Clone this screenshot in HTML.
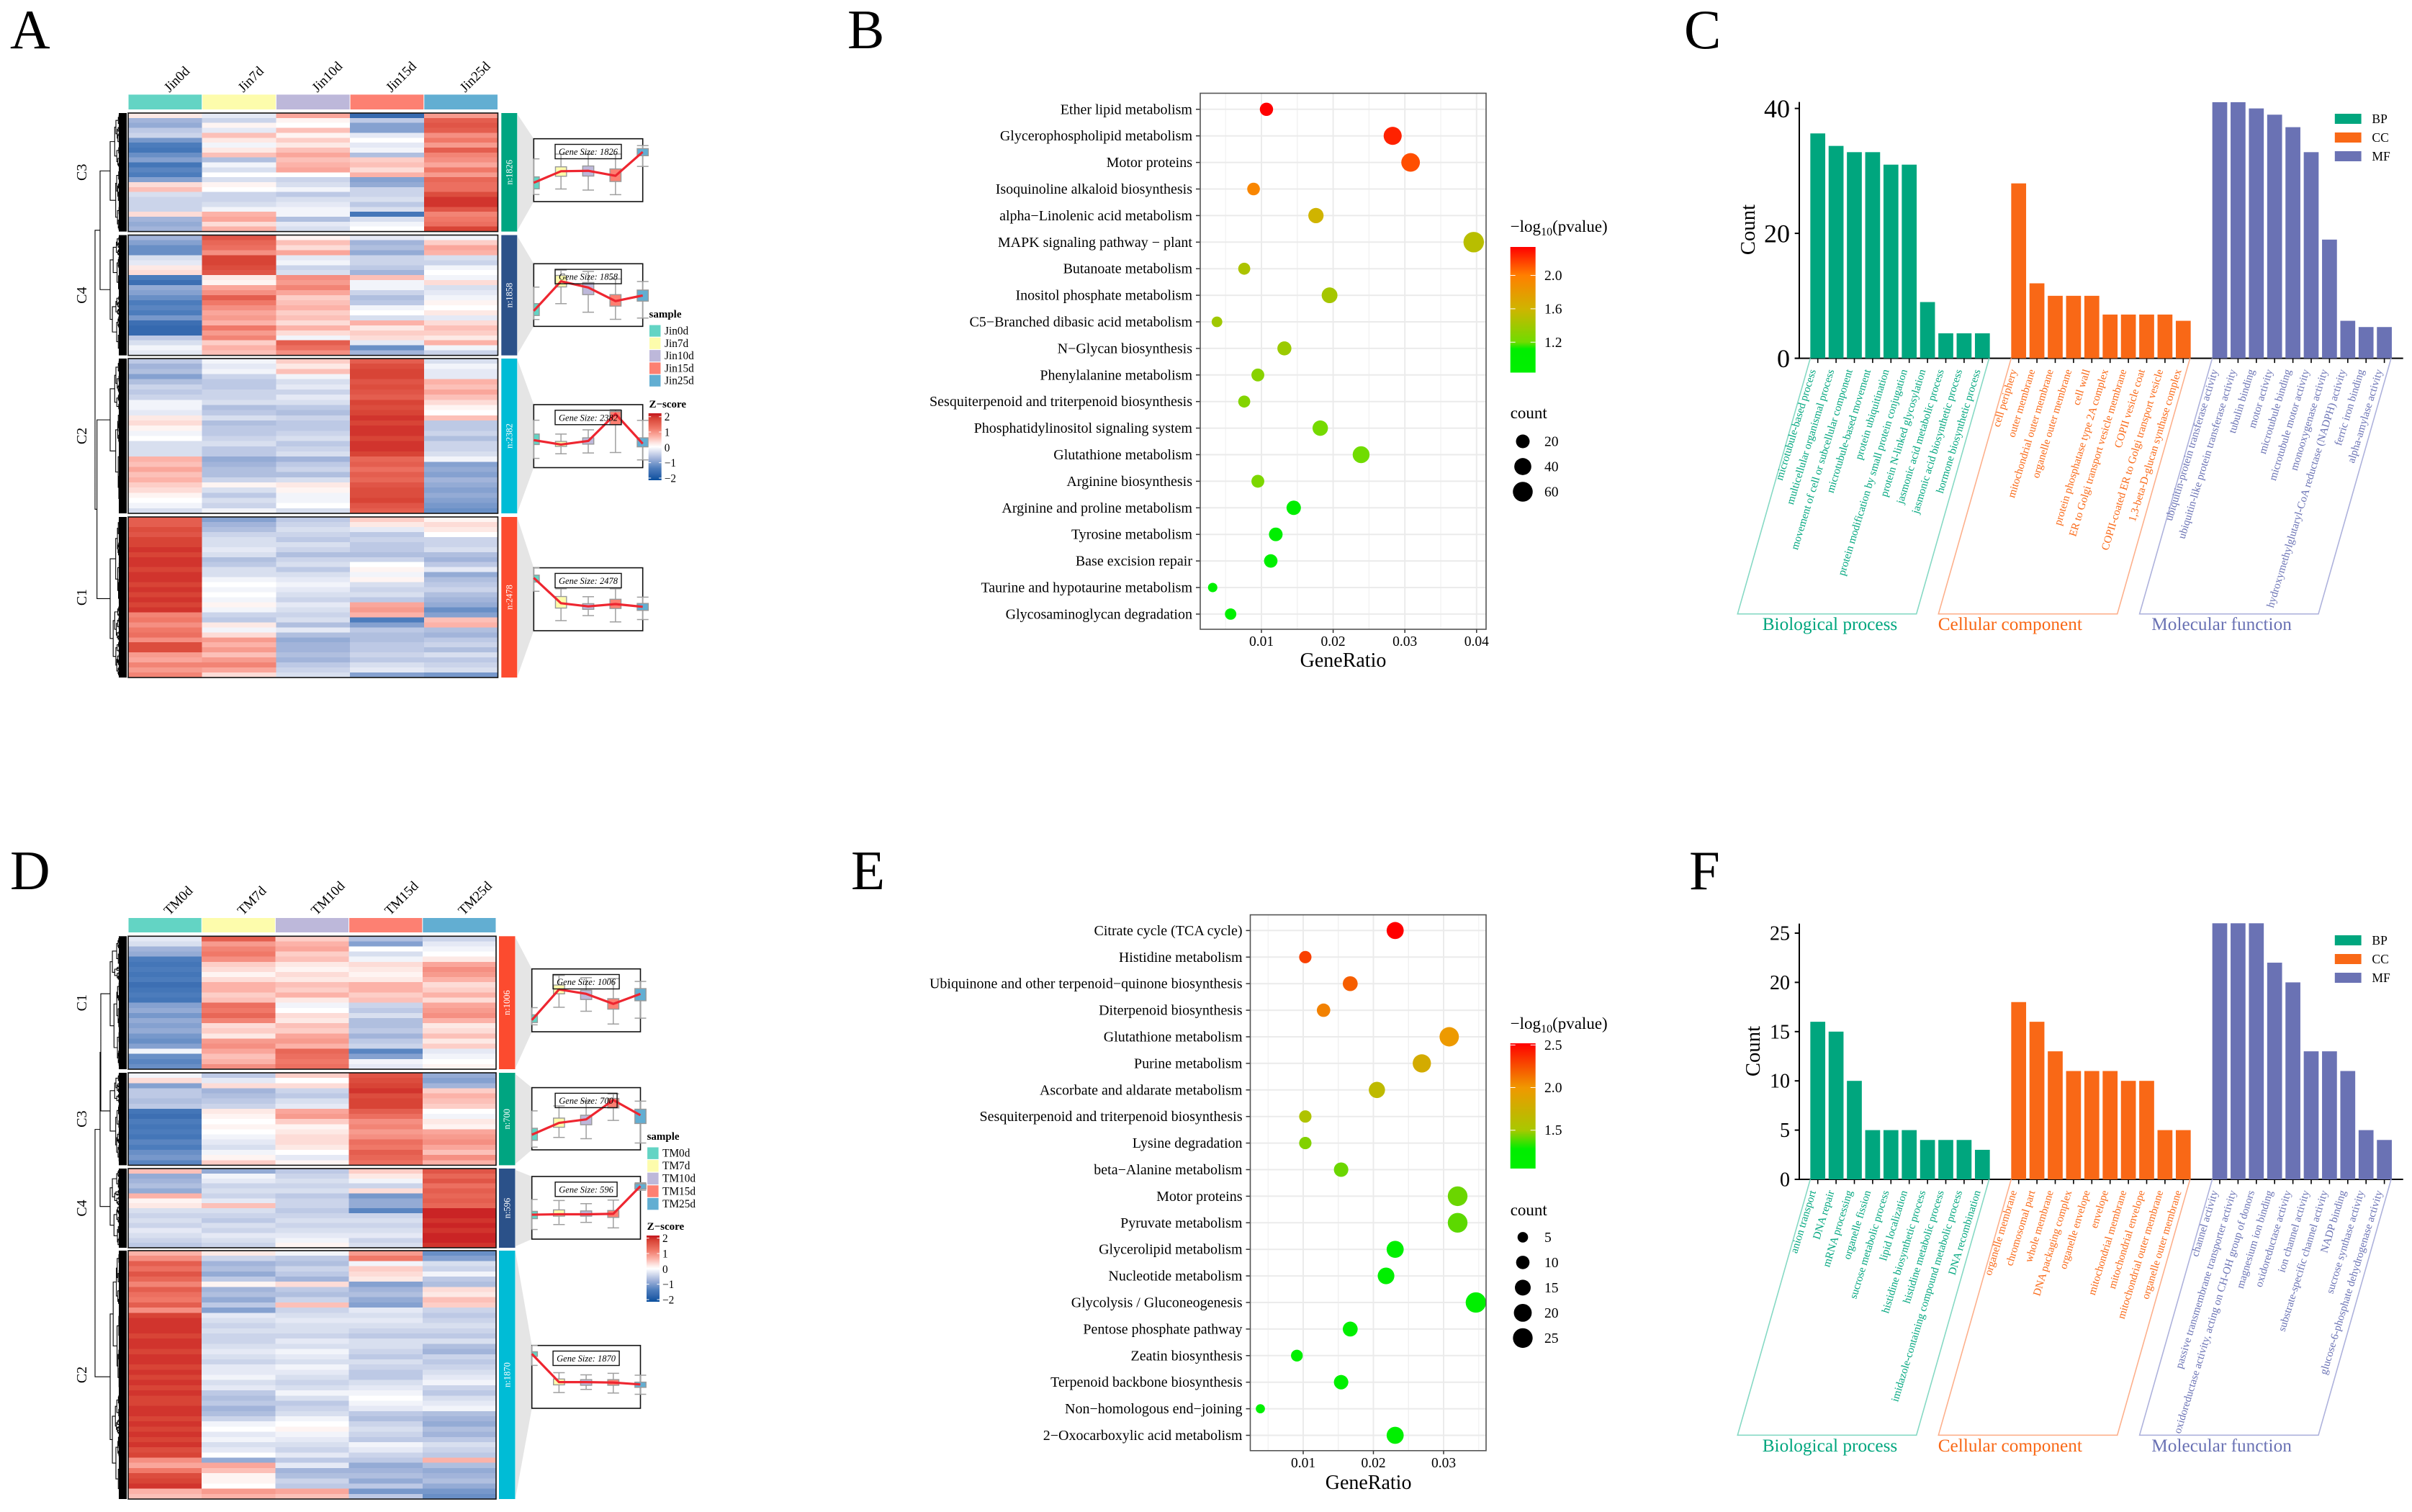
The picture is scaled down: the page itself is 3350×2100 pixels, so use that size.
<!DOCTYPE html>
<html lang="en">
<head>
<meta charset="utf-8">
<title>Transcriptome clustering and enrichment figure</title>
<style>
html,body{margin:0;padding:0;background:#fff;}
svg{display:block;font-family:"Liberation Serif","Times New Roman",serif;}
</style>
</head>
<body>
<svg id="figure" xmlns="http://www.w3.org/2000/svg" width="3350" height="2100" viewBox="0 0 3350 2100">
<rect x="0" y="0" width="3350" height="2100" fill="#fff"/>
<defs id="defs"></defs>
<g id="panelA"></g>
<g id="panelB"></g>
<g id="panelC"></g>
<g id="panelD"></g>
<g id="panelE"></g>
<g id="panelF"></g>
<text x="14" y="67" font-size="77">A</text>
<text x="1177" y="67" font-size="77">B</text>
<text x="2339" y="67" font-size="77">C</text>
<text x="14" y="1235" font-size="77">D</text>
<text x="1182" y="1235" font-size="77">E</text>
<text x="2346" y="1235" font-size="77">F</text>
</svg>
<script>
/* ---------- DATA: heatmap z-scores x10, per column, top to bottom ---------- */
const aC3Heat=[
[2,-7,-8,-5,-4,-10,-13,-14,-11,-9,-14,-12,-13,-9,3,5,-3,-4,-4,-4,3,-7,-8,-7],
[-2,-4,1,-2,5,2,-1,2,5,-6,-1,-3,0,-3,1,0,-4,-4,-3,-1,6,7,3,6],
[7,1,0,5,1,4,2,5,7,5,6,7,0,-4,-3,-1,-5,-3,-2,-1,-1,-6,-2,-3],
[-16,-5,-9,-9,-2,0,-2,-1,-6,4,5,3,6,-9,-8,-4,-4,-3,-5,-3,-14,-3,-1,0],
[8,14,15,14,9,11,8,14,10,9,7,11,8,13,12,12,16,18,18,15,10,11,12,17]];
const aC4Heat=[
[-7,-9,-11,-11,-3,-2,2,3,-13,-15,-8,-9,-11,-13,-12,-13,-10,-15,-16,-16,-5,-3,-1,-2],
[15,13,12,9,17,17,16,15,2,1,7,9,14,11,9,7,8,6,11,8,10,4,6,5],
[1,5,3,7,-2,-1,-4,-3,9,8,10,7,4,5,6,4,5,3,6,3,-1,14,12,9],
[-2,-7,-6,-8,-4,-4,-5,-7,5,-1,-1,-4,-6,-5,-1,0,-3,6,2,4,3,-2,-11,-7],
[-1,4,7,6,-3,-4,-1,0,-1,3,-3,-2,-1,1,0,2,-2,3,5,4,2,6,-1,-4]];
const aC2Heat=[
[-5,-7,-6,-9,-6,-4,-5,-4,-1,-1,-2,2,3,1,-1,0,-3,-3,-3,6,5,7,5,6,4,3,1,0,-1,-3],
[-1,-2,-1,-4,-5,-5,-4,-4,-3,-6,-5,-3,-6,-5,-5,-4,-3,-5,-5,-8,-7,-6,-6,-4,1,-3,-5,-3,-4,-1],
[4,2,5,-1,-3,-2,-4,-2,-3,-5,-6,-4,-5,-5,-4,-3,-5,-4,-3,-7,-5,-4,-6,-3,2,1,-1,-1,0,-3],
[14,16,17,17,15,16,15,14,17,16,17,18,17,18,18,17,18,18,17,13,14,12,14,13,15,16,16,17,15,14],
[-3,-1,-2,-2,6,5,7,5,3,1,0,5,-5,-5,-4,-6,-4,-4,-3,-1,-9,-8,-9,-7,-8,-9,-8,-9,-10,-11]];
const aC1Heat=[
[14,14,16,15,17,17,18,17,18,18,17,18,18,17,18,17,18,17,18,10,11,9,11,12,9,16,16,8,7,10,8,10],
[-9,-7,-6,-4,-3,-3,-2,-3,-6,-5,-3,-3,-1,0,-1,0,-1,1,-1,-4,-5,2,-1,3,8,6,8,5,8,10,7,3],
[-5,-4,-3,-4,-5,-3,-4,-6,-4,-3,-5,-3,-2,-1,-2,-3,-4,-2,-3,-4,-3,-6,-2,-6,-8,-7,-7,-6,-7,-5,-4,-3],
[4,2,-2,-5,-4,-5,-5,-6,-4,0,1,-1,1,-3,-4,-3,-5,7,8,6,-13,-9,-5,-6,-6,-5,-5,-4,-5,-3,-2,-9],
[1,3,2,0,-4,-4,-3,-6,-7,-5,-2,-8,-6,-5,-4,-6,-7,-8,-11,-9,5,6,-6,-7,-5,-4,-6,-3,-5,-4,-3,-10]];
const dC1Heat=[
[-2,-3,-7,-8,-13,-14,-13,-14,-13,-15,-14,-13,-14,-9,-8,-10,-8,-9,-8,-10,-11,-9,-1,-11,-12,-11],
[14,8,10,11,9,4,3,1,3,6,6,4,5,12,11,13,10,3,4,2,8,9,7,5,6,9],
[4,6,7,4,5,2,1,3,2,5,4,6,2,-1,0,3,2,5,4,7,8,6,13,12,11,12],
[-6,-9,0,-3,-1,3,2,1,2,6,6,4,5,-4,-5,-3,-6,-6,-5,-7,-5,-4,-12,-9,-1,-2],
[-4,-2,-1,0,2,7,9,8,6,3,4,6,3,7,8,9,6,2,3,5,2,4,-2,-1,0,1]];
const dC3Heat=[
[-1,3,-9,-5,-5,-6,-5,-14,-15,-13,-14,-13,-14,-12,-13,-11,-10,-12],
[-5,-2,3,-7,-6,-5,-4,2,1,0,1,0,-1,-2,-3,-1,1,4],
[4,0,3,-4,-5,-3,-2,7,8,4,1,2,3,3,2,0,-2,1],
[15,16,17,18,16,17,17,14,12,9,10,8,9,12,11,14,13,12],
[-8,-9,-7,4,6,5,4,0,-1,2,1,7,8,9,7,5,9,6]];
const dC4Heat=[
[5,-8,-7,-6,-8,6,1,2,-3,-4,-3,-4,-2,-3,-4,-5],
[-8,-1,-2,-4,-3,-4,-2,5,-3,-4,-5,-3,-4,-2,-3,-4],
[-5,-4,-3,-4,-3,-5,-4,-4,-5,-4,-3,-4,-3,-2,-1,1],
[4,2,-1,-4,3,-10,-8,-8,-12,-4,-3,-4,-3,-2,-4,-3],
[15,13,15,12,14,13,14,13,19,19,18,19,18,19,19,18]];
const dC2Heat=[
[6,9,14,12,15,13,10,14,12,11,14,9,17,18,18,18,17,18,18,17,18,18,17,18,17,18,17,18,17,17,18,18,17,18,17,18,17,18,16,17,9,7,11,16,17,18,6,5],
[2,-4,-7,-6,-8,-5,1,-7,-6,-8,-5,-9,-2,-3,-4,-3,-4,-4,-3,-2,-3,-4,-2,-2,-1,-3,-2,-5,-6,-5,-7,-6,-4,-1,0,-2,-1,-3,-2,0,-8,7,5,1,1,0,8,6],
[-1,-5,-6,-4,-5,-7,3,-5,-6,-4,5,-4,-3,-2,-3,-3,-4,-2,-3,-1,-2,-3,-1,-2,-3,-4,-3,-1,-3,-5,-4,-3,-1,0,1,-1,-2,-3,-4,-2,-5,-2,-7,-6,-4,-5,7,5],
[8,11,-1,4,3,2,-9,-7,-6,-8,-9,-2,-3,-2,-3,-4,-5,-3,-3,-4,-5,-3,-4,-5,-5,-3,-2,-1,0,-1,-2,-5,-6,-4,-3,-4,-5,-1,-2,-4,-5,-8,-7,-6,-8,-5,-10,-5],
[-11,-9,-3,-4,-1,-5,-6,3,2,5,4,-4,-5,-4,-3,-4,-5,-3,-6,-7,-4,-5,-4,-3,-2,-1,-4,-5,-3,-2,-1,-6,-7,-8,-6,-7,-5,-3,-4,-5,6,-6,-8,-7,-6,-8,-10,-11]];

/* ---------- DATA: trend box plots (stat arrays in time-point order) ---------- */
const aC3Median=[-.6,-.05,-.03,-.27,.87], aC3Q1=[-.89,-.29,-.28,-.54,.69], aC3Q3=[-.32,.16,.2,.06,1.03], aC3Low=[-1.16,-.9,-.95,-1.17,.18], aC3High=[.54,.77,.77,.77,1.17];
const aC4Median=[-.76,.66,.36,-.29,-.02], aC4Q1=[-.98,.39,.02,-.53,-.29], aC4Q3=[-.41,.94,.6,.02,.24], aC4Low=[-1.17,-.41,-.82,-1.16,-1.1], aC4High=[.38,1.19,1.13,.77,.65];
const aC2Median=[-.19,-.4,-.23,1.06,-.36], aC2Q1=[-.4,-.49,-.38,.54,-.51], aC2Q3=[.1,-.25,-.08,1.17,-.08], aC2Low=[-1.06,-.84,-.8,-.78,-1.13], aC2High=[.76,.1,.3,1.26,.75];
const aC1Median=[1.02,-.19,-.34,-.23,-.36], aC1Q1=[.82,-.42,-.48,-.44,-.53], aC1Q3=[1.15,.13,-.21,0,-.2], aC1Low=[.38,-1.02,-.78,-1.08,-.97], aC1High=[1.5,.5,.12,.5,.1];
const dC1Median=[-.94,.52,.31,-.17,.31], dC1Q1=[-1.06,.31,.04,-.42,-.02], dC1Q3=[-.69,.73,.48,.08,.56], dC1Low=[-1.17,-.33,-.52,-1.13,-.85], dC1High=[-.35,1.19,1.08,1.04,.9];
const dC3Median=[-.77,-.2,-.03,.9,.17], dC3Q1=[-1.04,-.41,-.29,.52,-.23], dC3Q3=[-.46,.03,.17,.98,.46], dC3Low=[-1.37,-.9,-.96,-.08,-1.17], dC3High=[.38,.62,.85,1.2,.85];
const dC4Median=[-.33,-.31,-.31,-.29,1.04], dC4Q1=[-.52,-.4,-.4,-.46,.9], dC4Q3=[-.17,-.1,-.15,-.13,1.15], dC4Low=[-1.04,-.8,-.7,-.96,.84], dC4High=[.4,.35,.2,.37,1.2];
const dC2Median=[1.1,-.25,-.25,-.27,-.36], dC2Q1=[.98,-.38,-.4,-.4,-.5], dC2Q3=[1.2,-.1,-.13,-.13,-.25], dC2Low=[.55,-.75,-.6,-.77,-.83], dC2High=[1.5,.2,.1,.17,.08];

/* ---------- DATA: KEGG dot plots ---------- */
const bTerms=["Ether lipid metabolism","Glycerophospholipid metabolism","Motor proteins","Isoquinoline alkaloid biosynthesis","alpha\u2212Linolenic acid metabolism","MAPK signaling pathway \u2212 plant","Butanoate metabolism","Inositol phosphate metabolism","C5\u2212Branched dibasic acid metabolism","N\u2212Glycan biosynthesis","Phenylalanine metabolism","Sesquiterpenoid and triterpenoid biosynthesis","Phosphatidylinositol signaling system","Glutathione metabolism","Arginine biosynthesis","Arginine and proline metabolism","Tyrosine metabolism","Base excision repair","Taurine and hypotaurine metabolism","Glycosaminoglycan degradation"];
const bRatios=[.0107,.0283,.0308,.0089,.0176,.0396,.0076,.0195,.0038,.0132,.0095,.0076,.0182,.0239,.0095,.0145,.012,.0113,.0032,.0057];
const bCounts=[18,47,51,15,29,65,12,32,6,22,16,12,30,39,16,24,20,19,1,9];
const bLogP=[2.34,2.25,2.13,1.95,1.6,1.5,1.45,1.42,1.4,1.38,1.3,1.28,1.22,1.2,1.25,1.05,1.02,1,.95,.9];
const bRatioTicks=[.01,.02,.03,.04];
const bColorTicks=[2,1.6,1.2];
const bSizeTicks=[20,40,60];
const eTerms=["Citrate cycle (TCA cycle)","Histidine metabolism","Ubiquinone and other terpenoid\u2212quinone biosynthesis","Diterpenoid biosynthesis","Glutathione metabolism","Purine metabolism","Ascorbate and aldarate metabolism","Sesquiterpenoid and triterpenoid biosynthesis","Lysine degradation","beta\u2212Alanine metabolism","Motor proteins","Pyruvate metabolism","Glycerolipid metabolism","Nucleotide metabolism","Glycolysis / Gluconeogenesis","Pentose phosphate pathway","Zeatin biosynthesis","Terpenoid backbone biosynthesis","Non\u2212homologous end\u2212joining","2\u2212Oxocarboxylic acid metabolism"];
const eRatios=[.0231,.0103,.0167,.0129,.0308,.0269,.0205,.0103,.0103,.0154,.032,.032,.0231,.0218,.0346,.0167,.0091,.0154,.0039,.0231];
const eCounts=[18,8,13,10,24,21,16,8,8,12,25,25,18,17,27,13,7,12,3,18];
const eLogP=[2.52,2.3,2.2,2.08,1.98,1.8,1.65,1.55,1.45,1.42,1.42,1.4,1.22,1.2,1.18,1.15,1.12,1.1,1.08,1.06];
const eRatioTicks=[.01,.02,.03];
const eColorTicks=[2.5,2,1.5];
const eSizeTicks=[5,10,15,20,25];

/* ---------- DATA: GO bar plots ---------- */
const cBpTerms=["microtubule-based process","multicellular organismal process","movement of cell or subcellular component","microtubule-based movement","protein ubiquitination","protein modification by small protein conjugation","protein N-linked glycosylation","jasmonic acid metabolic process","jasmonic acid biosynthetic process","hormone biosynthetic process"];
const cBpCounts=[36,34,33,33,31,31,9,4,4,4];
const cCcTerms=["cell periphery","outer membrane","mitochondrial outer membrane","organelle outer membrane","cell wall","protein phosphatase type 2A complex","ER to Golgi transport vesicle membrane","COPII vesicle coat","COPII-coated ER to Golgi transport vesicle","1,3-beta-D-glucan synthase complex"];
const cCcCounts=[28,12,10,10,10,7,7,7,7,6];
const cMfTerms=["ubiquitin-protein transferase activity","ubiquitin-like protein transferase activity","tubulin binding","motor activity","microtubule binding","microtubule motor activity","monooxygenase activity","hydroxymethylglutaryl-CoA reductase (NADPH) activity","ferric iron binding","alpha-amylase activity"];
const cMfCounts=[41,41,40,39,37,33,19,6,5,5];
const cCountTicks=[0,20,40];
const fBpTerms=["anion transport","DNA repair","mRNA processing","organelle fission","sucrose metabolic process","lipid localization","histidine biosynthetic process","histidine metabolic process","imidazole-containing compound metabolic process","DNA recombination"];
const fBpCounts=[16,15,10,5,5,5,4,4,4,3];
const fCcTerms=["organelle membrane","chromosomal part","whole membrane","DNA packaging complex","organelle envelope","envelope","mitochondrial membrane","mitochondrial envelope","mitochondrial outer membrane","organelle outer membrane"];
const fCcCounts=[18,16,13,11,11,11,10,10,5,5];
const fMfTerms=["channel activity","passive transmembrane transporter activity","oxidoreductase activity, acting on CH-OH group of donors","magnesium ion binding","oxidoreductase activity","ion channel activity","substrate-specific channel activity","NADP binding","sucrose synthase activity","glucose-6-phosphate dehydrogenase activity"];
const fMfCounts=[26,26,26,22,20,13,13,11,5,4];
const fCountTicks=[0,5,10,15,20,25];

const aSamples=["Jin0d","Jin7d","Jin10d","Jin15d","Jin25d"];
const dSamples=["TM0d","TM7d","TM10d","TM15d","TM25d"];
const zTicks=[2,1,0,-1,-2];
const sampleColors=["#63d4c4","#fdfcac","#bdb8da","#fd8072","#62aed2"];
const heatStops=[[-2,"#0a4f9e"],[-1.6,"#3569af"],[-1.3,"#4c7cbc"],[-.7,"#a2b4da"],[-.25,"#dfe4f2"],[0,"#ffffff"],[.25,"#fde3df"],[.6,"#fcb2a8"],[1.1,"#f07868"],[1.7,"#d84436"],[2,"#c3141c"]];
const bColorStops=[[.836,"#00f000"],[1.12,"#00ee00"],[1.2,"#70dc00"],[1.6,"#d0b400"],[2,"#ff7f00"],[2.34,"#ff0000"]];
const eColorStops=[[1.05,"#00f000"],[1.28,"#00ee00"],[1.5,"#a8c800"],[2,"#f09800"],[2.52,"#ff0000"]];

/* ---------- HELPERS ---------- */
const NS="http://www.w3.org/2000/svg";
function mk(tag,attrs,parent){const n=document.createElementNS(NS,tag);for(const k in attrs)n.setAttribute(k,attrs[k]);parent.appendChild(n);return n;}
function txt(str,x,y,size,parent,extra){const n=mk("text",Object.assign({x:x,y:y,"font-size":size},extra||{}),parent);n.textContent=str;return n;}
function hex(c){return [parseInt(c.slice(1,3),16),parseInt(c.slice(3,5),16),parseInt(c.slice(5,7),16)];}
function colorAt(stops,v){
  if(v<=stops[0][0])return stops[0][1];
  for(let i=1;i<stops.length;i++){
    if(v<=stops[i][0]){
      const t=(v-stops[i-1][0])/(stops[i][0]-stops[i-1][0]),a=hex(stops[i-1][1]),b=hex(stops[i][1]);
      return "rgb("+a.map((q,j)=>Math.round(q+(b[j]-q)*t)).join(",")+")";
    }
  }
  return stops[stops.length-1][1];
}
function gradient(id,stops){
  const g=mk("linearGradient",{id:id,x1:0,y1:1,x2:0,y2:0},document.getElementById("defs"));
  const lo=stops[0][0],hi=stops[stops.length-1][0];
  stops.forEach(s=>mk("stop",{offset:(s[0]-lo)/(hi-lo),"stop-color":s[1]},g));
}

/* ---------- HEATMAP PANEL ---------- */
const branchRatios=[.46,.58,.38,.62,.5,.33,.68,.44,.55];
const branchSteps=[.3,.45,.22,.55,.38];
let branchIndex=0;
function subtree(y0,y1,x,xLeaf,depth,out){
  if(depth>=7||y1-y0<2.2){out.push("M"+x+" "+((y0+y1)/2)+"H"+xLeaf);return (y0+y1)/2;}
  const r=branchRatios[branchIndex++%branchRatios.length];
  const m=y0+(y1-y0)*r;
  const xa=x+(xLeaf-x)*branchSteps[branchIndex%branchSteps.length];
  const xb=x+(xLeaf-x)*branchSteps[(branchIndex+2)%branchSteps.length];
  const a=subtree(y0,m,xa,xLeaf,depth+1,out),b=subtree(m,y1,xb,xLeaf,depth+1,out);
  out.push("M"+xa+" "+a+"H"+x+"V"+b+"H"+xb);
  return (a+b)/2;
}
function merge(x,a,b,out){out.push("M"+a.x+" "+a.y+"H"+x+"V"+b.y+"H"+b.x);return {x:x,y:(a.y+b.y)/2};}

function heatPanel(g,L,samples){
  const colW=(L.right-L.left)/5;
  samples.forEach((s,i)=>{
    const h=mk("rect",{x:L.left+i*colW+.5,y:L.headTop,width:colW-1,height:L.headBot-L.headTop,fill:sampleColors[i]},g);
    
    
    const cx=L.left+(i+.5)*colW+6,cy=L.headBot-23;
    const t=txt(s,cx,cy,19,g,{transform:"rotate(-45 "+cx+" "+cy+")"});
    
    
  });
  const roots={};
  const treeOut=[];
  L.blocks.forEach(b=>{
    const block=mk("g",{},g);
    
    
    b.heat.forEach((col,ci)=>{
      const h=(b.bot-b.top)/col.length;
      col.forEach((v,ri)=>{
        const r=mk("rect",{x:L.left+ci*colW,y:b.top+ri*h,width:colW+.3,height:h+.3,fill:colorAt(heatStops,v/10),"shape-rendering":"crispEdges"},block);
        
        
      });
    });
    const fr=mk("rect",{x:L.left,y:b.top,width:L.right-L.left,height:b.bot-b.top,fill:"none",stroke:"#111","stroke-width":1.6},g);
    
    
    const ly0=(b.top+b.bot)/2+L.labelShift;
    const lab=txt(b.name,120,ly0,20,g,{"text-anchor":"middle",transform:"rotate(-90 120 "+ly0+")"});
    
    
    const fringe=mk("rect",{x:165,y:b.top,width:11,height:b.bot-b.top,fill:"#000"},g);
    
    
    roots[b.name]={x:153,y:subtree(b.top+1,b.bot-1,153,167,0,treeOut)};
    const gp=mk("polygon",{points:[L.barRight+.5,b.top+2,L.fLeft,b.fTop,L.fLeft,b.fBot,L.barRight+.5,b.bot-2].join(" "),fill:"#e5e5e5"},g);
    
    
    const sb=mk("rect",{x:L.barLeft,y:b.top,width:L.barRight-L.barLeft,height:b.bot-b.top,fill:b.color},g);
    
    
    const scx=(L.barLeft+L.barRight)/2+4,scy=(b.top+b.bot)/2;
    const st=txt("n:"+b.size,scx,scy,12.5,g,{fill:"#fff","text-anchor":"middle",transform:"rotate(-90 "+scx+" "+scy+")"});
    
    
    /* trend frame */
    const fH=b.fBot-b.fTop,sp=(L.fRight-L.fLeft)/4;
    const vy=v=>b.fBot-(v+1.5)/3*fH;
    const px=i=>L.fLeft+i*sp;
    const fb=mk("rect",{x:L.fLeft,y:b.fTop,width:L.fRight-L.fLeft,height:fH,fill:"#fff",stroke:"#111","stroke-width":1.6},g);
    
    
    for(let i=0;i<5;i++){
      const cap=8,bw=7.7,x=px(i),xl=Math.max(L.fLeft,x-bw),xc=Math.max(L.fLeft,x-cap);
      const w=mk("path",{d:"M"+x+" "+vy(b.low[i])+"V"+vy(b.high[i])+"M"+xc+" "+vy(b.low[i])+"H"+(x+cap)+"M"+xc+" "+vy(b.high[i])+"H"+(x+cap),stroke:"#a0a0a0","stroke-width":1.5,fill:"none"},g);
      
      
      const bx=mk("rect",{x:xl,y:vy(b.q3[i]),width:x+bw-xl,height:vy(b.q1[i])-vy(b.q3[i]),fill:sampleColors[i],stroke:"#999","stroke-width":1.4},g);
      
      
    }
    const line=mk("polyline",{points:b.median.map((v,i)=>px(i)+","+vy(v)).join(" "),fill:"none",stroke:"#ee2630","stroke-width":3.2,"stroke-linejoin":"round"},g);
    
    
    const w4=String(b.size).length>3?92:86,mid=(L.fLeft+L.fRight)/2,ly=b.fTop+7.8;
    const lb=mk("rect",{x:mid-w4/2,y:ly,width:w4,height:20,fill:"none",stroke:"#111","stroke-width":1.4},g);
    
    
    const lt=txt("Gene Size: "+b.size,mid,ly+14.5,12.5,g,{"text-anchor":"middle","font-style":"italic"});
    
    
  });
  L.tree.forEach(step=>{
    roots[step[3]]=merge(step[0],roots[step[1]],roots[step[2]],treeOut);
  });
  const tree=mk("path",{d:treeOut.join(""),fill:"none",stroke:"#000","stroke-width":1.1},g);
  
  
  /* legends */
  const lt=txt("sample",L.legX,L.sampleY,15,g,{"font-weight":"bold"});
  
  
  samples.forEach((s,i)=>{
    const y=L.sampleY+10.5+i*L.swStep;
    const sw=mk("rect",{x:L.legX+.5,y:y,width:15.5,height:L.swStep-1.2,fill:sampleColors[i]},g);
    
    
    const t=txt(s,L.legX+21.5,y+13,15.3,g);
    
    
  });
  const zt=txt("Z\u2212score",L.legX,L.zTitleY,15,g,{"font-weight":"bold"});
  
  
  const cb=mk("rect",{x:L.zBarX,y:L.zBarTop,width:18,height:L.zBarBot-L.zBarTop,fill:"url(#heatGrad)"},g);
  
  
  zTicks.forEach((z,i)=>{
    const y=L.zY2+(L.zYm2-L.zY2)*i/4;
    const tk=mk("path",{d:"M"+L.zBarX+" "+y+"h3.5M"+(L.zBarX+18)+" "+y+"h-3.5",stroke:"#fff","stroke-width":1},g);
    
    
    const t=txt(String(z).replace("-","\u2212"),L.zBarX+22,y+5.5,15.3,g);
    
    
  });
}

/* ---------- DOT PLOT PANEL ---------- */
function dotPanel(g,L,terms,ratios,counts,logp,ratioTicks,colorTicks,sizeTicks,stops,gradId){
  const X=v=>L.x01+(v-.01)*L.perUnit;
  const Y=i=>L.y0+i*L.dy;
  const R=c=>Math.sqrt(L.ra+L.rb*c);
  const bg=mk("rect",{x:L.left,y:L.top,width:L.right-L.left,height:L.bot-L.top,fill:"#fff"},g);
  
  
  ratioTicks.forEach(v=>{
    [v-.005,v+.005].forEach(m=>{
      if(X(m)>L.left&&X(m)<L.right){
        const ln=mk("line",{x1:X(m),x2:X(m),y1:L.top,y2:L.bot,stroke:"#efefef","stroke-width":1},g);
        
        
      }
    });
    const ln=mk("line",{x1:X(v),x2:X(v),y1:L.top,y2:L.bot,stroke:"#ebebeb","stroke-width":2},g);
    
    
    const tk=mk("line",{x1:X(v),x2:X(v),y1:L.bot,y2:L.bot+5,stroke:"#333","stroke-width":1.5},g);
    
    
    const t=txt(v.toFixed(2),X(v),L.bot+23,19.5,g,{"text-anchor":"middle"});
    
    
  });
  terms.forEach((term,i)=>{
    const ln=mk("line",{x1:L.left,x2:L.right,y1:Y(i),y2:Y(i),stroke:"#ebebeb","stroke-width":2},g);
    
    
    const tk=mk("line",{x1:L.left-6,x2:L.left,y1:Y(i),y2:Y(i),stroke:"#333","stroke-width":1.5},g);
    
    
    const t=txt(term,L.left-11,Y(i)+6.5,20,g,{"text-anchor":"end"});
    
    
  });
  terms.forEach((term,i)=>{
    const r=R(counts[i]);
    const c=mk("ellipse",{cx:X(ratios[i]),cy:Y(i),rx:r,ry:r,fill:colorAt(stops,logp[i])},g);
    
    
  });
  const fr=mk("rect",{x:L.left,y:L.top,width:L.right-L.left,height:L.bot-L.top,fill:"none",stroke:"#555","stroke-width":1.6},g);
  
  
  const xt=txt("GeneRatio",L.titleX,L.titleY,28,g,{"text-anchor":"middle"});
  
  
  const lt=txt("\u2212log",2097.7,L.legTitleY,23,g);
  
  
  const sub=mk("tspan",{dy:5,"font-size":16},lt);sub.textContent="10";
  const rest=mk("tspan",{dy:-5},lt);rest.textContent="(pvalue)";
  const lo=stops[0][0],hi=stops[stops.length-1][0];
  const cb=mk("rect",{x:2097.7,y:L.cbTop,width:35,height:L.cbBot-L.cbTop,fill:"url(#"+gradId+")"},g);
  
  
  colorTicks.forEach(v=>{
    const y=L.cbBot-(v-lo)/(hi-lo)*(L.cbBot-L.cbTop);
    const tk=mk("path",{d:"M2097.7 "+y+"h7M2132.7 "+y+"h-7",stroke:"#fff","stroke-width":1},g);
    
    
    const t=txt(v.toFixed(1),2145,y+6.5,19.6,g);
    
    
  });
  const ct=txt("count",2097.7,L.countY,23,g);
  
  
  sizeTicks.forEach((c,i)=>{
    const y=L.sizeY0+i*L.sizeStep;
    const d=mk("circle",{cx:2115,cy:y,r:R(c),fill:"#000"},g);
    
    
    const t=txt(String(c),2145,y+6.5,19.6,g);
    
    
  });
}

/* ---------- BAR PANEL ---------- */
const groupTitles=["Biological process","Cellular component","Molecular function"];
const groupColors=["#00a67e","#f96816","#6a72b4"];
const groupEdge=["#86d9c4","#fdb08c","#aeb2dc"];
const groupKeys=["BP","CC","MF"];
const barStart=[2524.7,2803.7,3083];
const legendSwY=[0,26,52];
function barPanel(g,L,termSets,countSets,ticks){
  const Y=v=>L.base-v*L.perCount;
  const ax=mk("path",{d:"M2499 "+L.axisTop+"V"+L.base+"M2492.7 "+L.base+"H3337.7",stroke:"#000","stroke-width":2,fill:"none"},g);
  
  
  ticks.forEach(v=>{
    const tk=mk("line",{x1:2492.7,x2:2499,y1:Y(v),y2:Y(v),stroke:"#000","stroke-width":2},g);
    
    
    const t=txt(String(v),2486,Y(v)+L.tickSize*.34,L.tickSize,g,{"text-anchor":"end"});
    
    
  });
  const yt=txt("Count",L.countX,L.countY,28.7,g,{"text-anchor":"middle",transform:"rotate(-90 "+L.countX+" "+L.countY+")"});
  
  
  termSets.forEach((terms,k)=>{
    const x0=barStart[k];
    const gl=mk("path",{d:"M"+(x0-10.4)+" "+L.base+"L"+(x0-111.4)+" "+L.shapeBot+"H"+(x0+137)+"L"+(x0+238)+" "+L.base,fill:"none",stroke:groupEdge[k],"stroke-width":1.6},g);
    
    
    terms.forEach((term,i)=>{
      const cx=x0+i*25.4,v=countSets[k][i];
      const b=mk("rect",{x:cx-10.35,y:Y(v),width:20.7,height:L.base-Y(v),fill:groupColors[k]},g);
      
      
      const tk=mk("line",{x1:cx,x2:cx,y1:L.base,y2:L.base+6.5,stroke:"#000","stroke-width":1.6},g);
      
      
      const tx=cx-2.5,ty=L.base+17;
      const t=txt(term,tx,ty,15,g,{"text-anchor":"end",fill:groupColors[k],transform:"rotate(-73 "+tx+" "+ty+")"});
      
      
    });
    const gt=txt(groupTitles[k],[2447.7,2691.7,2988.3][k],L.shapeBot+22.5,25.3,g,{fill:groupColors[k]});
    
    
    const sw=mk("rect",{x:3242.8,y:L.legY+legendSwY[k],width:36.8,height:14,fill:groupColors[k]},g);
    
    
    const lt=txt(groupKeys[k],3294.4,L.legY+legendSwY[k]+13,17.5,g);
    
    
  });
}

/* ---------- COMPOSE ---------- */
gradient("heatGrad",heatStops);
gradient("bGrad",bColorStops);
gradient("eGrad",eColorStops);
const tealC="#00a581",navyC="#2b5189",cyanC="#00bcd6",redC="#fc4b2f";
heatPanel(document.getElementById("panelA"),{
  left:178,right:691.5,headTop:131.4,headBot:152,barLeft:696.3,barRight:718.3,fLeft:741.3,fRight:892.7,labelShift:0,
  legX:901.5,sampleY:441,swStep:17.3,zTitleY:566,zBarX:900.7,zBarTop:574,zBarBot:667,zY2:578.7,zYm2:664,
  blocks:[
    {name:"C3",top:157,bot:321.6,fTop:192.7,fBot:280,color:tealC,size:1826,heat:aC3Heat,median:aC3Median,q1:aC3Q1,q3:aC3Q3,low:aC3Low,high:aC3High},
    {name:"C4",top:326.5,bot:493.6,fTop:366.3,fBot:453.3,color:navyC,size:1858,heat:aC4Heat,median:aC4Median,q1:aC4Q1,q3:aC4Q3,low:aC4Low,high:aC4High},
    {name:"C2",top:498,bot:713,fTop:562,fBot:649.5,color:cyanC,size:2382,heat:aC2Heat,median:aC2Median,q1:aC2Q1,q3:aC2Q3,low:aC2Low,high:aC2High},
    {name:"C1",top:718,bot:941,fTop:788.6,fBot:876,color:redC,size:2478,heat:aC1Heat,median:aC1Median,q1:aC1Q1,q3:aC1Q3,low:aC1Low,high:aC1High}],
  tree:[[139,"C3","C4","m1"],[134.7,"C2","C1","m2"],[132,"m1","m2","root"]]
},aSamples);
heatPanel(document.getElementById("panelD"),{
  left:178,right:689,headTop:1275,headBot:1295,barLeft:693,barRight:715.5,fLeft:738.7,fRight:889.5,labelShift:0,
  legX:898.6,sampleY:1583,swStep:17.6,zTitleY:1708,zBarX:898,zBarTop:1716,zBarBot:1808,zY2:1719.6,zYm2:1805,
  blocks:[
    {name:"C1",top:1300.3,bot:1485,fTop:1345.7,fBot:1433,color:redC,size:1006,heat:dC1Heat,median:dC1Median,q1:dC1Q1,q3:dC1Q3,low:dC1Low,high:dC1High},
    {name:"C3",top:1490,bot:1618.4,fTop:1510.6,fBot:1597,color:tealC,size:700,heat:dC3Heat,median:dC3Median,q1:dC3Q1,q3:dC3Q3,low:dC3Low,high:dC3High},
    {name:"C4",top:1623,bot:1733,fTop:1634,fBot:1721,color:navyC,size:596,heat:dC4Heat,median:dC4Median,q1:dC4Q1,q3:dC4Q3,low:dC4Low,high:dC4High},
    {name:"C2",top:1737,bot:2082,fTop:1868.7,fBot:1956,color:cyanC,size:1870,heat:dC2Heat,median:dC2Median,q1:dC2Q1,q3:dC2Q3,low:dC2Low,high:dC2High}],
  tree:[[140,"C1","C3","m1"],[139,"m1","C4","m2"],[132,"m2","C2","root"]]
},dSamples);
dotPanel(document.getElementById("panelB"),{
  left:1667,right:2064,top:129.5,bot:874,x01:1752,perUnit:9960,y0:151.8,dy:36.9,ra:40,rb:2.5,
  titleX:1865.5,titleY:926,legTitleY:322,cbTop:343,cbBot:517.5,countY:581,sizeY0:613,sizeStep:35
},bTerms,bRatios,bCounts,bLogP,bRatioTicks,bColorTicks,bSizeTicks,bColorStops,"bGrad");
dotPanel(document.getElementById("panelE"),{
  left:1736.5,right:2064,top:1270.6,bot:2014.8,x01:1810,perUnit:9750,y0:1292.4,dy:36.9,ra:20,rb:6.7,
  titleX:1900.6,titleY:2068,legTitleY:1429,cbTop:1449,cbBot:1623,countY:1688,sizeY0:1718.4,sizeStep:35
},eTerms,eRatios,eCounts,eLogP,eRatioTicks,eColorTicks,eSizeTicks,eColorStops,"eGrad");
barPanel(document.getElementById("panelC"),{
  base:497.6,perCount:8.675,axisTop:141.6,tickSize:36,countX:2437,countY:319,shapeBot:852.7,legY:158
},[cBpTerms,cCcTerms,cMfTerms],[cBpCounts,cCcCounts,cMfCounts],cCountTicks);
barPanel(document.getElementById("panelF"),{
  base:1638,perCount:13.68,axisTop:1282.7,tickSize:28,countX:2444,countY:1460,shapeBot:1993.3,legY:1299
},[fBpTerms,fCcTerms,fMfTerms],[fBpCounts,fCcCounts,fMfCounts],fCountTicks);
</script>
</body>
</html>
